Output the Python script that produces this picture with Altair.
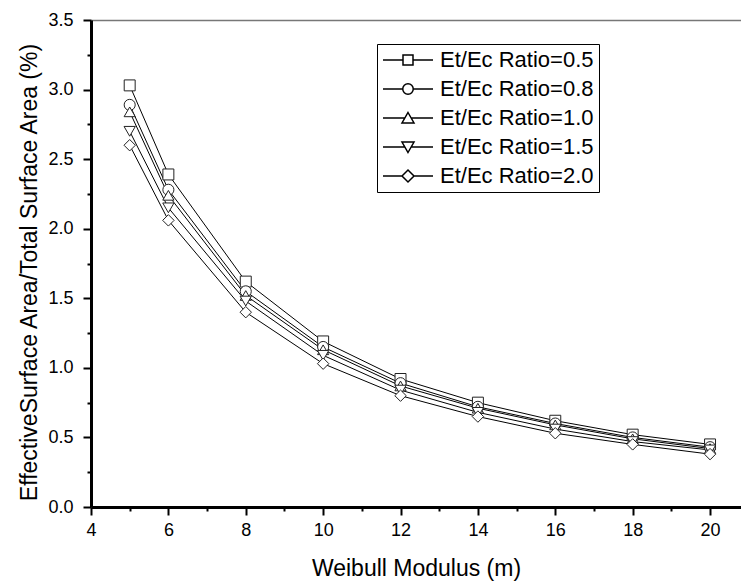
import altair as alt
import pandas as pd

# ---- data ----
m_values = [5, 6, 8, 10, 12, 14, 16, 18, 20]
series_names = ["Et/Ec Ratio=0.5", "Et/Ec Ratio=0.8", "Et/Ec Ratio=1.0",
                "Et/Ec Ratio=1.5", "Et/Ec Ratio=2.0"]
ratio_05 = [3.03, 2.39, 1.62, 1.19, 0.92, 0.75, 0.62, 0.52, 0.45]
ratio_08 = [2.89, 2.28, 1.55, 1.15, 0.89, 0.72, 0.60, 0.50, 0.43]
ratio_10 = [2.84, 2.24, 1.52, 1.13, 0.87, 0.71, 0.59, 0.49, 0.42]
ratio_15 = [2.70, 2.15, 1.48, 1.09, 0.84, 0.68, 0.56, 0.47, 0.41]
ratio_20 = [2.60, 2.06, 1.40, 1.03, 0.80, 0.65, 0.53, 0.45, 0.38]
x_tick_values = list(range(4, 21))
y_tick_values = [i * 0.25 for i in range(15)]

all_series = [ratio_05, ratio_08, ratio_10, ratio_15, ratio_20]
rows = []
for name, vals in zip(series_names, all_series):
    for m, v in zip(m_values, vals):
        rows.append({"m": m, "value": v, "series": name})
df = pd.DataFrame(rows)

FONT = "Liberation Sans"

plot_shapes = ["square", "circle", "triangle-up", "triangle-down", "diamond"]
plot_sizes = [120, 130, 140, 140, 190]
legend_paths = [
    "M-1,0H-0.2M0.2,0H1M-0.2,-0.2H0.2V0.2H-0.2Z",
    "M-1,0H-0.21M0.21,0H1M-0.21,0A0.21,0.21 0 1,0 0.21,0A0.21,0.21 0 1,0 -0.21,0Z",
    "M-1,0H-0.126M0.126,0H1M0,-0.22L0.24,0.2H-0.24Z",
    "M-1,0H-0.126M0.126,0H1M0,0.22L0.24,-0.2H-0.24Z",
    "M-1,0H-0.24M0.24,0H1M-0.24,0L0,-0.24L0.24,0L0,0.24Z",
]

x_scale = alt.Scale(domain=[4, 20.8], nice=False, zero=False)
y_scale = alt.Scale(domain=[0, 3.5], nice=False, zero=False)

x_axis = alt.Axis(
    values=x_tick_values,
    title="Weibull Modulus (m)",
    labelExpr="datum.value % 2 == 0 ? datum.label : ''",
    tickSize={"condition": {"test": "datum.value % 2 == 0", "value": 8}, "value": 4},
    tickWidth=2, tickColor="black",
    domainColor="black", domainWidth=3,
    labelFont=FONT, labelFontSize=18, labelColor="black", labelPadding=6,
    titleFont=FONT, titleFontSize=23, titleFontWeight="normal", titleColor="black",
    titleBaseline="middle", titleY=61,
    grid=False, labelFlush=False, labelOverlap=False,
)
y_axis = alt.Axis(
    values=y_tick_values,
    title="EffectiveSurface Area/Total Surface Area (%)",
    format=".1f",
    labelExpr="round(datum.value * 4) % 2 == 0 ? datum.label : ''",
    tickSize={"condition": {"test": "round(datum.value * 4) % 2 == 0", "value": 8}, "value": 4},
    tickWidth=2, tickColor="black",
    domainColor="black", domainWidth=3,
    labelFont=FONT, labelFontSize=18, labelColor="black", labelPadding=10,
    titleFont=FONT, titleFontSize=23, titleFontWeight="normal", titleColor="black",
    titleBaseline="middle", titleX=-62, titleY=252,
    grid=False, labelFlush=False, labelOverlap=False,
)

lines = alt.Chart(df).mark_line(color="black", strokeWidth=1).encode(
    x=alt.X("m:Q", scale=x_scale, axis=x_axis),
    y=alt.Y("value:Q", scale=y_scale, axis=y_axis),
    detail="series:N",
)

points = alt.Chart(df).mark_point(
    filled=True, fill="white", stroke="#222", strokeWidth=1, opacity=1
).encode(
    x=alt.X("m:Q", scale=x_scale, axis=None),
    y=alt.Y("value:Q", scale=y_scale, axis=None),
    shape=alt.Shape("series:N", scale=alt.Scale(domain=series_names, range=plot_shapes), legend=None),
    size=alt.Size("series:O", scale=alt.Scale(domain=series_names, range=plot_sizes), legend=None),
    order=alt.Order("series:N"),
)

legend_layer = alt.Chart(df).transform_filter("datum.m < 0").mark_point(
    color="black", strokeWidth=1.5, size=2500, opacity=1, filled=False
).encode(
    x=alt.X("m:Q", scale=x_scale,
            axis=alt.Axis(orient="top", labels=False, ticks=False, domainColor="#777",
                          domainWidth=1.5, title=None, grid=False)),
    y=alt.Y("value:Q", scale=y_scale, axis=None),
    shape=alt.Shape(
        "series:N",
        scale=alt.Scale(domain=series_names, range=legend_paths),
        legend=alt.Legend(
            title=None, orient="none", legendX=286, legendY=24,
            clipHeight=22, rowPadding=7, padding=5,
            labelFont=FONT, labelFontSize=22, labelColor="black", labelOffset=6,
            strokeColor="black", symbolStrokeWidth=1.5, symbolSize=2500,
            symbolStrokeColor="black", symbolOpacity=1,
        ),
    ),
)

chart = alt.layer(lines, points, legend_layer).resolve_scale(
    shape="independent", size="independent"
).resolve_axis(x="independent", y="independent").properties(
    width=650, height=487,
    autosize=alt.AutoSizeParams(type="none"),
    padding={"left": 91, "top": 20, "right": 0, "bottom": 75},
    background="white",
).configure_view(strokeWidth=0)

chart.save("out.html", embed_options={"renderer": "svg", "actions": False})
